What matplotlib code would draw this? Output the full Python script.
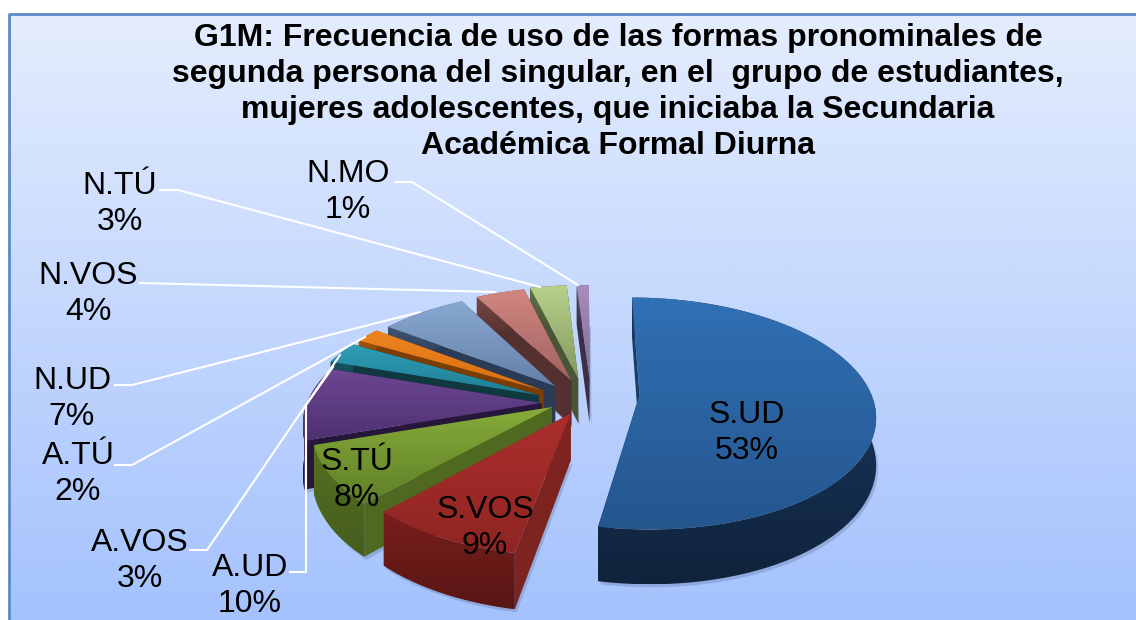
import numpy as np
import matplotlib
matplotlib.use("Agg")
import matplotlib.pyplot as plt
from matplotlib.patches import Polygon
from matplotlib.colors import LinearSegmentedColormap

plt.rcParams['font.family'] = ['Liberation Sans', 'DejaVu Sans']

title = ("G1M: Frecuencia de uso de las formas pronominales de\n"
         "segunda persona del singular, en el  grupo de estudiantes,\n"
         "mujeres adolescentes, que iniciaba la Secundaria\n"
         "Académica Formal Diurna")
categories = ["S.UD", "S.VOS", "S.TÚ", "A.UD", "A.VOS", "A.TÚ", "N.UD", "N.VOS", "N.TÚ", "N.MO"]
values = [53, 9, 8, 10, 3, 2, 7, 4, 3, 1]

# style: top colours (light, dark), wall colour pairs, radial wall colour
top_light = ["#3070b4", "#ac2f2c", "#87ab3a", "#6c4793", "#2f9db5", "#ee8420", "#88a8d2", "#d28682", "#b7d18a", "#a88ebf"]
top_dark = ["#25568e", "#8e2522", "#5f7f27", "#4f3070", "#1f7f96", "#d86f10", "#6580a8", "#a06460", "#84995f", "#7f6c92"]
wall_light = ["#1a3d66", "#7a1f1c", "#546f22", "#3a2355", "#175f70", "#a8560c", "#4d6283", "#7d4c4a", "#66754a", "#5f5070"]
wall_dark = ["#10233c", "#571614", "#465d1c", "#2a183f", "#0f3840", "#7a3d05", "#2b3b55", "#553030", "#4a5535", "#3a3048"]
radial = ["#1a3d66", "#7d2420", "#4f6a20", "#25163a", "#0f3840", "#7a3d05", "#2b3b55", "#553030", "#4a5535", "#3a3048"]
offset_u = [0.235, -0.06, -0.14, -0.185, -0.20, -0.18, -0.13, -0.06, -0.03, 0.02]
offset_v = [0.0, -0.16, -0.105, -0.07, 0.0, 0.04, 0.08, 0.13, 0.15, 0.15]
label_xy = [(747, 433), (485, 528), (357, 480), (250, 586), (140, 561), (78, 474),
            (72, 399), (88, 294), (120, 204), (348, 192)]
leaders = [
    [(395, 182), (412, 182), (578, 285)],
    [(160, 190), (178, 190), (540, 287)],
    [(140, 283), (495, 292)],
    [(115, 385), (132, 385), (420, 312)],
    [(115, 465), (132, 465), (365, 337)],
    [(190, 550), (207, 550), (340, 355)],
    [(290, 572), (306, 572), (306, 405), (333, 367)],
]

W, H = 1136, 620
CX, CY, RX, RY, K, DEPTH = 585.0, 395.0, 232.0, 113.0, 0.16, 46.0


def project(u, v, drop=0.0):
    w = 1.0 / (1.0 + K * v)
    return np.column_stack([CX + RX * u * w, CY - RY * v * w + drop * DEPTH * w])


def gradient_fill(ax, pts, c1, c2, horizontal=False, z=2):
    cmap = LinearSegmentedColormap.from_list("g", [c1, c2])
    patch = Polygon(pts, closed=True, facecolor="none", edgecolor="none", transform=ax.transData)
    ax.add_patch(patch)
    g = np.linspace(0, 1, 64).reshape(-1, 1)
    if horizontal:
        g = g.T
    x0, y0 = pts.min(axis=0)
    x1, y1 = pts.max(axis=0)
    im = ax.imshow(g, cmap=cmap, extent=(x0, x1, y1, y0), aspect="auto", zorder=z, interpolation="bilinear")
    im.set_clip_path(patch)


fig = plt.figure(figsize=(W / 100, H / 100), dpi=100, facecolor="white")
ax = fig.add_axes([0, 0, 1, 1])
ax.axis("off")

bg = LinearSegmentedColormap.from_list("bg", ["#e4edfd", "#a4c2fd"])
ax.imshow(np.linspace(0, 1, 256).reshape(-1, 1), cmap=bg, extent=(9, W, H, 14), aspect="auto", zorder=0)
ax.plot([9, 9, W], [H, 14, 14], color="#5b8ac6", lw=2, zorder=1)

fractions = np.array(values, dtype=float) / sum(values)
ends = np.cumsum(fractions) * 2 * np.pi
starts = ends - fractions * 2 * np.pi
mids = (starts + ends) / 2
order = np.argsort(-np.cos(mids))  # back to front

z = 2
for i in order:
    th = np.linspace(starts[i], ends[i], 80)
    ou, ov = offset_u[i], offset_v[i]
    u, v = ou + np.sin(th), ov + np.cos(th)
    rim_top = project(u, v)
    rim_bot = project(u, v, 1.0)
    ap_top = project(np.array([ou]), np.array([ov]))
    ap_bot = project(np.array([ou]), np.array([ov]), 1.0)
    shadow = np.vstack([ap_bot, rim_bot]) + np.array([2.0, 3.0])
    ax.add_patch(Polygon(shadow, closed=True, facecolor="#203050", alpha=0.18, edgecolor="none", zorder=z))
    z += 1
    for e in (0, -1):
        quad = np.vstack([ap_top, rim_top[[e]], rim_bot[[e]], ap_bot])
        ax.add_patch(Polygon(quad, closed=True, facecolor=radial[i], edgecolor="none", zorder=z))
    z += 1
    rim = np.vstack([rim_top, rim_bot[::-1]])
    gradient_fill(ax, rim, wall_light[i], wall_dark[i], z=z)
    z += 1
    top = np.vstack([ap_top, rim_top])
    gradient_fill(ax, top, top_light[i], top_dark[i], z=z)
    z += 1

for path in leaders:
    xs, ys = zip(*path)
    ax.plot(xs, ys, color="white", lw=1.5, zorder=z, solid_joinstyle="miter")
z += 1

for cat, val, (x, y) in zip(categories, values, label_xy):
    ax.text(x, y, f"{cat}\n{val}%", ha="center", va="center", fontsize=23, linespacing=1.27,
            color="black", zorder=z)

ax.text(618, 92, title, ha="center", va="center", fontsize=23, fontweight="bold",
        linespacing=1.25, color="black", zorder=z)

ax.set_xlim(0, W)
ax.set_ylim(H, 0)
fig.savefig("out.png", dpi=100, facecolor="white")
